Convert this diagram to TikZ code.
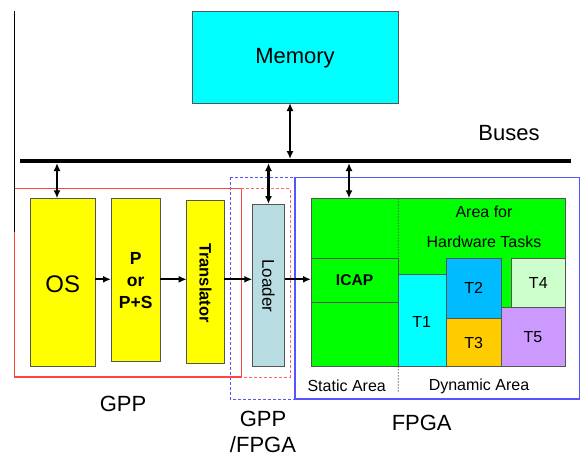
\documentclass[tikz,border=0pt]{standalone}
\usepackage{fontspec}
\setmainfont{Liberation Sans}
\usetikzlibrary{arrows.meta}
\definecolor{yel}{HTML}{FFFF00}
\definecolor{memc}{HTML}{00FFFF}
\definecolor{loadc}{HTML}{B7DDE3}
\definecolor{grn}{HTML}{00FF00}
\definecolor{tone}{HTML}{00FFFF}
\definecolor{ttwo}{HTML}{00BBFF}
\definecolor{tthree}{HTML}{FFCC00}
\definecolor{tfour}{HTML}{CCFFCC}
\definecolor{tfive}{HTML}{CC99FF}
\definecolor{redl}{HTML}{FF4444}
\definecolor{bluel}{HTML}{5555FF}
\definecolor{bord}{HTML}{555555}
\tikzset{
  blk/.style={draw=bord, line width=0.8pt, inner sep=0pt, outer sep=0pt, anchor=north west},
  dbl/.style={{Latex[length=8pt,width=7pt]}-{Latex[length=8pt,width=7pt]}, line width=2.2pt},
  sgl/.style={-{Latex[length=8pt,width=7pt]}, line width=2.2pt},
  lbl/.style={inner sep=0pt, font=\fontsize{22}{26}\selectfont, align=center},
  tl/.style={inner sep=0pt, font=\fontsize{16}{19}\selectfont},
}
\begin{document}
\begin{tikzpicture}[x=1pt,y=-1pt]
\useasboundingbox (0,0) rectangle (580,458);
% group frames
\draw[draw=bluel, line width=1pt, dash pattern=on 3pt off 2pt] (230,177.3) rectangle (295,399);
\draw[draw=bluel, line width=1.1pt] (295,177.3) rectangle (579.5,399);
\draw[draw=redl, line width=1.1pt] (14.5,188.3) rectangle (241.3,377);
\draw[draw=redl!80, line width=1pt, dash pattern=on 3pt off 2pt] (241.3,188.3) -- (290,188.3) -- (290,377) -- (241.3,377);
\draw[black, line width=1.3pt] (14.5,11) -- (14.5,232);
% memory and bus
\node[blk, fill=memc, minimum width=206, minimum height=92] (mem) at (192,11) {};
\node[lbl] at (295,58) {Memory};
\coordinate (busL) at (20,161);
\coordinate (busR) at (571,161);
\draw[line width=4pt] (busL) -- (busR);
\node[lbl] (buses) at (509,133) {Buses};
% GPP blocks
\node[blk, fill=yel, minimum width=64.7, minimum height=168.4] (os) at (30.3,198.3) {};
\node[lbl, font=\fontsize{24}{28}\selectfont] at (62.7,284) {OS};
\node[blk, fill=yel, minimum width=49.3, minimum height=163.4] (ps) at (111,198.3) {};
\node[inner sep=0pt, align=center, font=\fontsize{17.5}{22.3}\selectfont\bfseries] at (135.7,280.5) {P\\or\\P+S};
\node[blk, fill=yel, minimum width=37.6, minimum height=162.6] (tr) at (186.7,200.7) {};
\node[inner sep=0pt, rotate=-90, font=\fontsize{16.5}{19}\selectfont\bfseries] at (205.5,283) {Translator};
\node[blk, fill=loadc, minimum width=32.4, minimum height=162.7] (ld) at (252.3,204) {};
\node[inner sep=0pt, rotate=-90, font=\fontsize{17}{20}\selectfont] at (268.5,286) {Loader};
% FPGA area
\node[blk, fill=grn, minimum width=254.7, minimum height=167.7] (fa) at (311,198.3) {};
\node[blk, fill=grn, minimum width=87.3, minimum height=44] (icap) at (311,258.3) {};
\node[inner sep=0pt, font=\fontsize{15.6}{19}\selectfont\bfseries] at (354.6,280) {ICAP};
\node[blk, fill=grn, minimum width=87.3, minimum height=63.7] (sb) at (311,302.3) {};
\node[blk, fill=tone, minimum width=48, minimum height=91.7] (t1) at (398.3,274.3) {};
\node[blk, fill=ttwo, minimum width=54.7, minimum height=60] (t2) at (446.3,258.3) {};
\node[blk, fill=tthree, minimum width=54.7, minimum height=47.7] (t3) at (446.3,318.3) {};
\node[blk, fill=tfour, minimum width=54, minimum height=49] (t4) at (511.7,258.3) {};
\node[blk, fill=tfive, minimum width=64.7, minimum height=58.7] (t5) at (501,307.3) {};
\node[tl] at (421.7,321.7) {T1};
\node[tl] at (473.7,288.3) {T2};
\node[tl] at (473.7,343.3) {T3};
\node[tl] at (538.3,283.3) {T4};
\node[tl] at (533,337.3) {T5};
\node[tl] at (484,212) {Area for};
\node[tl] at (484,241.7) {Hardware Tasks};
\coordinate (dvT) at (398.3,198.3);
\coordinate (dvB) at (398.3,393);
\draw[bord, line width=0.7pt, dash pattern=on 1.5pt off 1.5pt] (dvT) -- (icap.north east);
\draw[bord, line width=0.7pt, dash pattern=on 1.5pt off 1.5pt] (sb.south east) -- (dvB);
\node[tl] at (346.7,386) {Static Area};
\node[tl] at (479,386) {Dynamic Area};
% group labels
\node[lbl] at (123,404) {GPP};
\node[lbl] at (263,432) {GPP\\/FPGA};
\node[lbl] at (421.7,423) {FPGA};
% bus arrows
\coordinate (m1) at (290,159);
\coordinate (b1) at (57,163);
\coordinate (b3) at (268.5,163);
\coordinate (b4) at (349,163);
\draw[dbl] (m1 |- mem.south) -- (m1);
\draw[dbl] (b1) -- (b1 |- os.north);
\draw[dbl] (b3) -- (ld.north);
\draw[dbl] (b4) -- (b4 |- fa.north);
% flow arrows
\draw[sgl] (os.east |- 0,279.3) -- (ps.west |- 0,279.3);
\draw[sgl] (ps.east |- 0,279.3) -- (tr.west |- 0,279.3);
\draw[sgl] (tr.east |- 0,279.3) -- (ld.west |- 0,279.3);
\draw[sgl] (ld.east |- 0,279.3) -- (icap.west |- 0,279.3);
\end{tikzpicture}
\end{document}
